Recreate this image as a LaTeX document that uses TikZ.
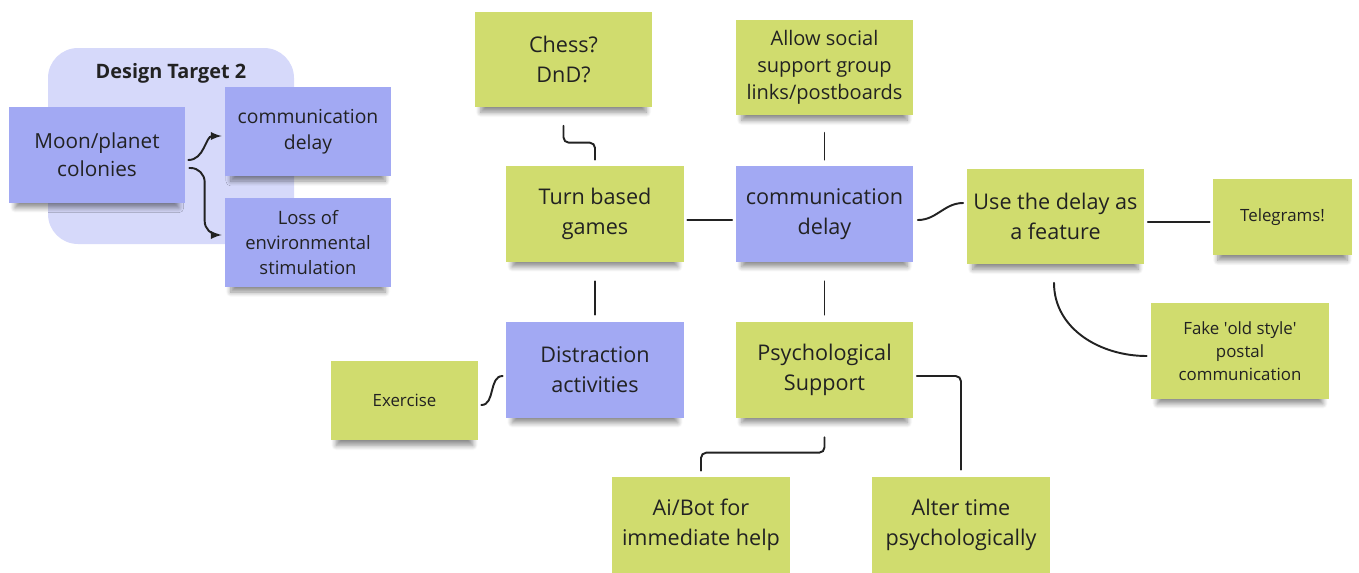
\documentclass[tikz,border=0pt]{standalone}
\usepackage{fontspec}
\setmainfont{Open Sans}
\usetikzlibrary{calc,shadows.blur}

\definecolor{noteblue}{HTML}{A2A9F3}
\definecolor{notegreen}{HTML}{D0DC6E}
\definecolor{groupbg}{HTML}{D6D9FA}
\definecolor{ink}{HTML}{222222}

\begin{document}
\begin{tikzpicture}[x=0.02cm,y=-0.02cm]
		\tikzstyle{note}=[draw=none,inner sep=0pt,align=center,text=ink,
			blur shadow={shadow xshift=0pt,shadow yshift=-5pt,shadow opacity=45,shadow scale=0.93,shadow blur radius=3pt,shadow blur steps=8}]
		\tikzstyle{bignote}=[note,minimum width=3.56cm,minimum height=1.92cm,font=\fontsize{12.3}{17}\selectfont]
		\tikzstyle{smallnote}=[note,minimum width=3.32cm,minimum height=1.78cm,font=\fontsize{11}{15}\selectfont]
		\tikzstyle{tinynote}=[note,font=\fontsize{9.6}{13}\selectfont]
		\tikzstyle{link}=[ink,line width=1.1pt,line cap=round]
		\tikzstyle{arrowlink}=[link,->,>=latex]

		\useasboundingbox (0,0) rectangle (1359,572);

		% design target frame
		\fill[groupbg,rounded corners=0.6cm] (48,48) rectangle (294,244);
		\node[font=\fontsize{11.3}{13}\bfseries\selectfont,text=ink] (title) at (171,73) {Design Target 2};
		\node[smallnote,fill=noteblue,minimum width=3.52cm,minimum height=1.92cm,font=\fontsize{11.8}{16}\selectfont] (moon) at (97,155) {Moon/planet\\colonies};
		\node[smallnote,fill=noteblue] (cdA) at (308,131.5) {communication\\delay};
		\node[smallnote,fill=noteblue,font=\fontsize{10.5}{14}\selectfont] (loss) at (308,242.5) {Loss of\\environmental\\stimulation};

		% mind map
		\foreach \n / \x / \y / \t in {chess/563.5/59.5/{Chess?\\DnD?},
			turn/595/214/{Turn based\\games}, usedelay/1055.5/216.5/{Use the delay as\\a feature}, psych/824.5/370/{Psychological\\Support},
			aibot/701/525/{Ai/Bot for\\immediate help}, alter/961/525/{Alter time\\psychologically}}
			{ \node[bignote,fill=notegreen] (\n) at (\x,\y) {\t}; }
		\node[bignote,fill=notegreen,font=\fontsize{11.4}{15.4}\selectfont] (allow) at (824.5,67.5) {Allow social\\support group\\links/postboards};
		\node[bignote,fill=noteblue] (delay) at (824.5,214) {communication\\delay};
		\node[bignote,fill=noteblue] (distract) at (595,370) {Distraction\\activities};
		\node[tinynote,fill=notegreen,minimum width=2.78cm,minimum height=1.52cm] (telegrams) at (1282.5,217) {Telegrams!};
		\node[tinynote,fill=notegreen,minimum width=3.56cm,minimum height=1.92cm] (fake) at (1240,351) {Fake \textquotesingle old style\textquotesingle\\postal\\communication};
		\node[tinynote,fill=notegreen,minimum width=2.94cm,minimum height=1.58cm] (exercise) at (404.5,400.5) {Exercise};

		\draw[arrowlink] ($(moon.east)+(3,5)$) to[out=0,in=180] ($(cdA.west)+(-3,4.5)$);
		\draw[arrowlink,rounded corners=8pt] ($(moon.east)+(4,13)$) -| ($(loss.west)+(-20,-7.5)$) -- ($(loss.west)+(-3,-7.5)$);

		\draw[link,rounded corners=3pt] ($(chess.south)+(0,18)$) |- ($(turn.north)+(0,-23)$) -- ($(turn.north)+(0,-6)$);
		\draw[link] ($(allow.south)+(0,17)$) -- ($(delay.north)+(0,-6)$);
		\draw[link] ($(turn.east)+(3,6)$) -- ($(delay.west)+(-3,6)$);
		\draw[link] ($(delay.east)+(4,6)$) to[out=0,in=180] ($(usedelay.west)+(-3,-13.5)$);
		\draw[link] ($(usedelay.east)+(3,5.5)$) -- ($(telegrams.west)+(-3,5)$);
		\draw[link] ($(usedelay.south)+(-1.5,18)$) to[out=-90,in=180] ($(fake.west)+(-4,5)$);
		\draw[link] ($(turn.south)+(0,19)$) -- ($(distract.north)+(0,-7)$);
		\draw[link] ($(delay.south)+(0,19)$) -- ($(psych.north)+(0,-7)$);
		\draw[link] ($(exercise.east)+(3,4.5)$) to[out=0,in=180] ($(distract.west)+(-3,6)$);
		\draw[link,rounded corners=3pt] ($(psych.south)+(0,19)$) |- ($(aibot.north)+(0,-24)$) -- ($(aibot.north)+(0,-6)$);
		\draw[link,rounded corners=3pt] ($(psych.east)+(3,6)$) -| ($(alter.north)+(0,-7)$);
\end{tikzpicture}
\end{document}
